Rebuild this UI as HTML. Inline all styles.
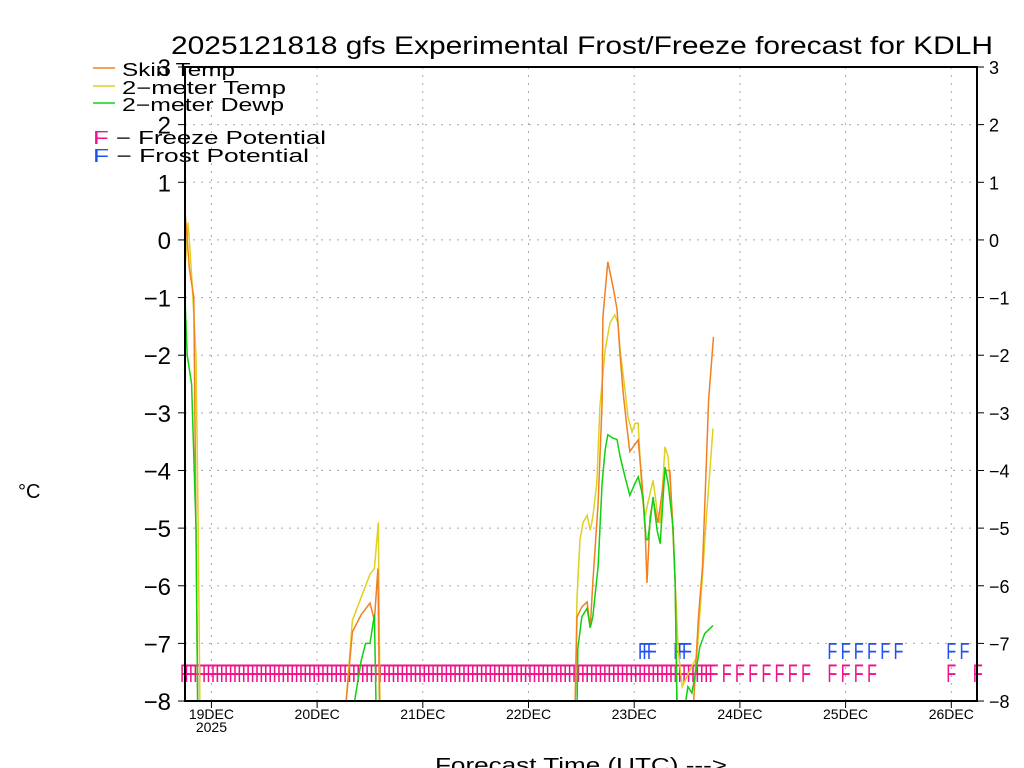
<!DOCTYPE html>
<html><head><meta charset="utf-8"><style>
html,body{margin:0;padding:0;background:#fff;}
svg{display:block;font-family:"Liberation Sans",sans-serif;}
</style></head><body>
<svg id="chart" width="1024" height="768" xmlns="http://www.w3.org/2000/svg">
<defs><clipPath id="clip"><rect x="185" y="67" width="792" height="634"/></clipPath></defs>
<text x="171" y="54" font-size="25" textLength="822" lengthAdjust="spacingAndGlyphs">2025121818 gfs Experimental Frost/Freeze forecast for KDLH</text>
<g id="grid"></g>
<g id="ftext"></g>
<g id="lines" clip-path="url(#clip)"></g>
<rect x="185" y="67" width="792" height="634" fill="none" stroke="#000" stroke-width="2"/>
<g id="axes"></g>
<text x="18" y="498" font-size="20">°C</text>
<text x="435" y="772" font-size="20" textLength="292" lengthAdjust="spacingAndGlyphs">Forecast Time (UTC) ---&gt;</text>
<g font-size="18">
<line x1="93" y1="68" x2="115" y2="68" stroke="#f08020" stroke-width="1.5"/>
<text x="122" y="76" textLength="113" lengthAdjust="spacingAndGlyphs">Skin Temp</text>
<line x1="93" y1="86" x2="115" y2="86" stroke="#e0d020" stroke-width="1.5"/>
<text x="122" y="94" textLength="164" lengthAdjust="spacingAndGlyphs">2−meter Temp</text>
<line x1="93" y1="103" x2="115" y2="103" stroke="#10d010" stroke-width="1.5"/>
<text x="122" y="111" textLength="162" lengthAdjust="spacingAndGlyphs">2−meter Dewp</text>
<text x="93" y="144" textLength="233" lengthAdjust="spacingAndGlyphs"><tspan fill="#f0108a">F</tspan> − Freeze Potential</text>
<text x="93" y="162" textLength="216" lengthAdjust="spacingAndGlyphs"><tspan fill="#2050f0">F</tspan> − Frost Potential</text>
</g>
</svg>
<script>
const yTicks=[3,2,1,0,-1,-2,-3,-4,-5,-6,-7,-8];
const dayLabels=["19DEC","20DEC","21DEC","22DEC","23DEC","24DEC","25DEC","26DEC"];
const dayHours=[6,30,54,78,102,126,150,174];
const skinTemp=[[0,0.5],[1,-0.5],[2,-1.0],[3,-9],[36,-9],[36.6,-8],[38,-6.8],[40,-6.5],[42,-6.3],[43,-6.6],[43.8,-5.7],[44.3,-9],[88,-9],[88.6,-8],[89.0,-6.54],[90.1,-6.37],[91.3,-6.28],[92.0,-6.73],[92.6,-5.95],[93.8,-4.57],[94.7,-2.83],[94.9,-1.34],[96.0,-0.38],[97.2,-0.82],[98.1,-1.2],[98.8,-2.0],[99.5,-2.66],[100.4,-3.3],[101.0,-3.67],[102.9,-3.47],[103.8,-4.22],[104.5,-5.08],[104.9,-5.95],[105.6,-4.8],[106.3,-4.51],[107.4,-4.91],[109.0,-4.0],[110.1,-4.0],[110.8,-5.08],[111.3,-5.95],[111.7,-7.86],[112,-9],[115,-9],[115.5,-8],[116.6,-6.54],[117.5,-5.67],[118.2,-4.22],[118.9,-2.78],[120,-1.68]];
const temp2m=[[0,-0.5],[0.7,0.3],[1.5,-0.6],[2.5,-2],[3,-5],[3.5,-9],[36,-9],[36.6,-8],[38,-6.6],[40,-6.2],[42,-5.8],[43,-5.7],[43.9,-4.9],[44.4,-9],[88,-9],[88.6,-8],[89.0,-6.2],[89.7,-5.2],[90.4,-4.9],[91.3,-4.78],[92.0,-5.04],[92.6,-4.81],[93.5,-4.22],[94.2,-2.9],[95.4,-1.91],[96.5,-1.44],[97.6,-1.3],[98.3,-1.44],[98.8,-1.91],[99.9,-2.6],[100.6,-3.07],[101.5,-3.33],[102.2,-3.18],[102.9,-3.18],[103.8,-4.46],[104.5,-4.8],[105.1,-4.56],[106.3,-4.17],[107.2,-4.69],[107.9,-4.92],[109.0,-3.59],[109.7,-3.76],[110.6,-4.69],[111.3,-5.95],[112.0,-7.1],[112.9,-7.75],[114.0,-7.57],[115.1,-7.4],[116.2,-7.24],[117.4,-5.95],[118.5,-4.69],[119.9,-3.27]];
const dewp2m=[[0,-1],[0.5,-2],[1.5,-2.5],[2.5,-5],[3,-9],[37.5,-9],[38.5,-8],[40,-7.3],[41,-7.0],[42,-7.0],[43,-6.5],[43.6,-9],[88.5,-9],[89.0,-8.2],[89.2,-7.1],[90.1,-6.54],[91.3,-6.39],[92.0,-6.73],[92.6,-6.54],[93.8,-5.67],[94.7,-4.22],[95.4,-3.65],[96.0,-3.38],[97.2,-3.44],[98.1,-3.46],[98.8,-3.76],[99.9,-4.11],[101.0,-4.43],[102.2,-4.22],[102.9,-4.11],[104.0,-4.46],[104.7,-5.2],[105.1,-5.2],[106.3,-4.46],[107.2,-5.04],[107.9,-5.27],[109.0,-3.94],[109.7,-4.22],[110.8,-4.98],[111.3,-5.95],[111.7,-8.1],[113.5,-8.1],[114.2,-7.75],[115.1,-7.86],[116.2,-7.4],[116.9,-7.06],[118.0,-6.83],[119.9,-6.69]];
const freezeHours=[];for(let h=0;h<=119;h++)freezeHours.push(h);
freezeHours.push(120,123,126,129,132,135,138,141,147,150,153,156,174,180);
const frostHours=[104,105,106,112,113,114,147,150,153,156,159,162,174,177];

const NS="http://www.w3.org/2000/svg";
const X=h=>185+h*4.404;
const Y=v=>67+(3-v)*57.64;
function mk(tag,attrs,parent,txt){const e=document.createElementNS(NS,tag);for(const k in attrs)e.setAttribute(k,attrs[k]);if(txt!==undefined)e.textContent=txt;parent.appendChild(e);return e;}
const grid=document.getElementById('grid'),axes=document.getElementById('axes');
yTicks.forEach(v=>{
  const g=mk('line',{x1:185,x2:977,y1:Y(v),y2:Y(v),stroke:'#aaa','stroke-dasharray':'2,6'},grid);
  
  
  const l=mk('text',{x:171,y:Y(v)+9,'text-anchor':'end','font-size':24},axes,(v<0?'−':'')+Math.abs(v));
  
  
  const r=mk('text',{x:989,y:Y(v)+7,'font-size':18},axes,(v<0?'−':'')+Math.abs(v));
  
  
  mk('line',{x1:977,x2:984,y1:Y(v),y2:Y(v),stroke:'#000'},axes);
  mk('line',{x1:178,x2:185,y1:Y(v),y2:Y(v),stroke:'#000'},axes);
});
dayHours.forEach((h,i)=>{
  const g=mk('line',{x1:X(h),x2:X(h),y1:67,y2:701,stroke:'#aaa','stroke-dasharray':'2,6'},grid);
  
  
  mk('line',{x1:X(h),x2:X(h),y1:701,y2:708,stroke:'#000'},axes);
  const t=mk('text',{x:X(h),y:719,'text-anchor':'middle','font-size':14},axes,dayLabels[i]);
  
  
});
const yr=mk('text',{x:X(6),y:732,'text-anchor':'middle','font-size':14},axes,'2025');


const ft=document.getElementById('ftext');
freezeHours.forEach(h=>{
  const t=mk('text',{x:X(h)-5,y:682,'font-size':25,fill:'#f0108a',textLength:10,lengthAdjust:'spacingAndGlyphs'},ft,'F');
  
  
});
frostHours.forEach(h=>{
  const t=mk('text',{x:X(h)-5,y:659,'font-size':23,fill:'#2050f0',textLength:10,lengthAdjust:'spacingAndGlyphs'},ft,'F');
  
  
});
const lines=document.getElementById('lines');
function draw(data,color,name){
  const p=mk('polyline',{points:data.map(d=>X(d[0]).toFixed(1)+','+Y(d[1]).toFixed(1)).join(' '),fill:'none',stroke:color,'stroke-width':1.5},lines);
  
  
}
draw(temp2m,'#e0d020','line-2m-temp');
draw(skinTemp,'#f08020','line-skin-temp');
draw(dewp2m,'#10d010','line-2m-dewp');
</script>
</body></html>
